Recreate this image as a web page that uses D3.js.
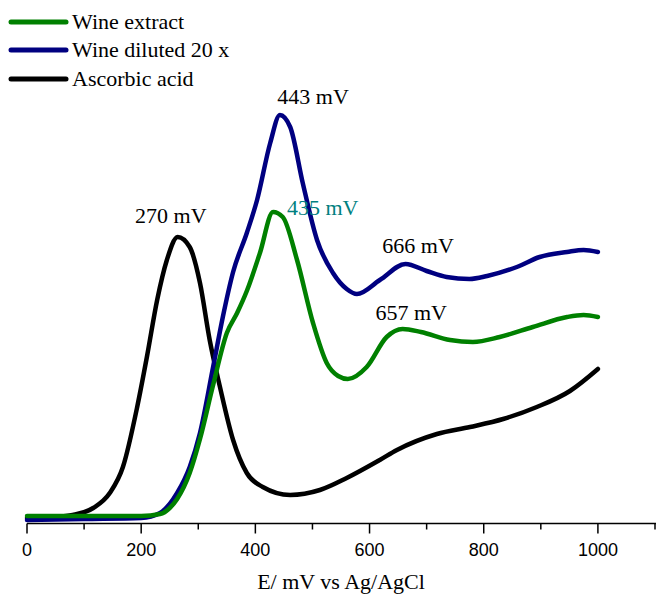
<!DOCTYPE html>
<html>
<head>
<meta charset="utf-8">
<script src="https://cdn.jsdelivr.net/npm/d3@7"></script>
<style>
  body { margin: 0; background: #fff; }
  svg { display: block; }
</style>
</head>
<body>
<div id="chart"></div>
<script>
// potential (mV) vs current (arbitrary units)
const wineExtract = [
  [0, 7], [100, 7], [200, 7], [233, 9], [250, 15], [263, 24], [285, 50],
  [303, 84], [326, 138], [350, 190], [368, 210], [385, 232], [408, 270],
  [431, 311], [448, 306], [473, 263], [501, 200], [525, 160], [545, 147],
  [562, 144], [595, 156], [630, 186], [658, 194], [690, 191], [741, 183],
  [781, 181], [828, 186], [886, 196], [946, 206], [975, 208], [1000, 206]
];
const wineDiluted = [
  [0, 3], [100, 4], [200, 5], [233, 10], [250, 19], [263, 30], [285, 56],
  [303, 90], [326, 156], [343, 206], [361, 251], [385, 290], [403, 323],
  [426, 380], [443, 408], [461, 396], [483, 340], [508, 283], [536, 250],
  [560, 234], [578, 229], [618, 243], [663, 259], [700, 252], [735, 246],
  [775, 244], [806, 247], [858, 256], [898, 266], [946, 271], [975, 273],
  [1000, 271]
];
const ascorbicAcid = [
  [0, 5], [50, 6], [80, 8], [116, 15], [145, 30], [168, 56], [193, 116],
  [210, 166], [228, 223], [245, 263], [264, 286], [285, 276], [303, 240],
  [320, 183], [338, 136], [361, 83], [385, 50], [413, 36], [461, 28],
  [513, 33], [560, 45], [618, 63], [648, 73], [718, 89], [776, 96],
  [834, 104], [893, 116], [951, 132], [1000, 154]
];

const seriesNames = ['Wine extract', 'Wine diluted 20 x', 'Ascorbic acid'];
const seriesColors = ['#008000', '#000080', '#000000'];
const seriesData = [wineExtract, wineDiluted, ascorbicAcid];

const peakLabels = [
  { x: 252, y: 300, text: '270 mV', color: '#000' },
  { x: 501, y: 419, text: '443 mV', color: '#000' },
  { x: 518, y: 308, text: '435 mV', color: '#008080' },
  { x: 685, y: 270, text: '666 mV', color: '#000' },
  { x: 673, y: 203, text: '657 mV', color: '#000' }
];

const majorTicks = [0, 200, 400, 600, 800, 1000];
const minorTicks = [100, 300, 500, 700, 900, 1100];

const width = 656, height = 596;

const svg = d3.select('#chart').append('svg')
  .attr('width', width)
  .attr('height', height);

const x = d3.scaleLinear().domain([0, 1100]).range([27, 655]);
const y = d3.scaleLinear().domain([0, 410]).range([523, 113]);

// axis
const axisY = y(0) + 0.5;
svg.append('line')
  .attr('x1', x(0)).attr('x2', width)
  .attr('y1', axisY).attr('y2', axisY)
  .style('stroke', '#000').style('stroke-width', 1.5);

svg.selectAll('.major-tick')
  .data(majorTicks)
  .enter().append('line')
  .attr('x1', d => x(d)).attr('x2', d => x(d))
  .attr('y1', axisY).attr('y2', axisY + 10)
  .style('stroke', '#000').style('stroke-width', 1.5);

svg.selectAll('.minor-tick')
  .data(minorTicks)
  .enter().append('line')
  .attr('x1', d => x(d)).attr('x2', d => x(d))
  .attr('y1', axisY).attr('y2', axisY + 6)
  .style('stroke', '#000').style('stroke-width', 1.5);

svg.selectAll('.tick-label')
  .data(majorTicks)
  .enter().append('text')
  .attr('x', d => x(d))
  .attr('y', 556)
  .attr('text-anchor', 'middle')
  .style('font-family', '"Liberation Sans", Arial, sans-serif')
  .style('font-size', '18px')
  .text(d => d);

svg.append('text')
  .attr('x', 341)
  .attr('y', 589)
  .attr('text-anchor', 'middle')
  .style('font-family', '"Liberation Serif", "Times New Roman", serif')
  .style('font-size', '22px')
  .text('E/ mV vs Ag/AgCl');

// curves
const line = d3.line()
  .x(d => x(d[0]))
  .y(d => y(d[1]))
  .curve(d3.curveMonotoneX);

// black first, then blue, then green on top near the baseline
[2, 1, 0].forEach(i => {
  svg.append('path')
    .datum(seriesData[i])
    .attr('d', line)
    .style('fill', 'none')
    .style('stroke', seriesColors[i])
    .style('stroke-width', 4.5)
    .style('stroke-linejoin', 'round')
    .style('stroke-linecap', 'round');
});

// peak labels
svg.selectAll('.peak-label')
  .data(peakLabels)
  .enter().append('text')
  .attr('x', d => x(d.x))
  .attr('y', d => y(d.y))
  .attr('text-anchor', 'middle')
  .style('font-family', '"Liberation Serif", "Times New Roman", serif')
  .style('font-size', '22px')
  .style('fill', d => d.color)
  .text(d => d.text);

// legend
const legendY = [22, 50, 79];
seriesNames.forEach((name, i) => {
  svg.append('line')
    .attr('x1', 11).attr('x2', 66)
    .attr('y1', legendY[i]).attr('y2', legendY[i])
    .style('stroke', seriesColors[i])
    .style('stroke-width', 5)
    .style('stroke-linecap', 'round');
  svg.append('text')
    .attr('x', 72)
    .attr('y', legendY[i] + 7)
    .style('font-family', '"Liberation Serif", "Times New Roman", serif')
    .style('font-size', '22px')
    .text(name);
});
</script>
</body>
</html>
